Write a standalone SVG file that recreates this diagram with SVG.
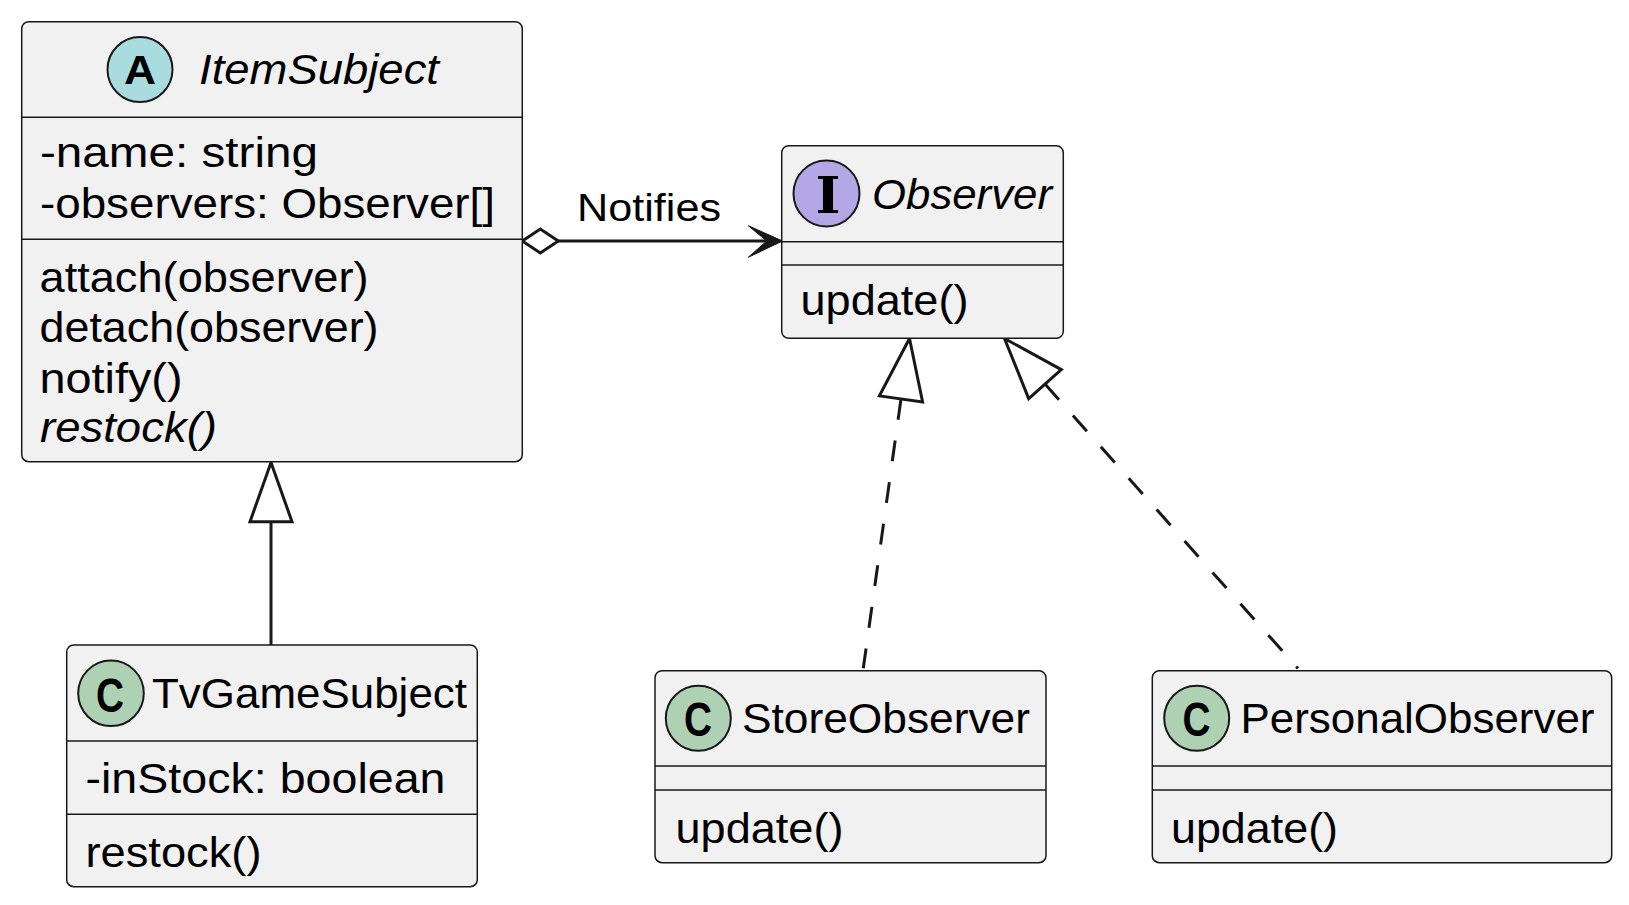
<svg xmlns="http://www.w3.org/2000/svg" width="1629" height="905" viewBox="0 0 1629 905">
<style>
.box{fill:#F1F1F1;stroke:#181818;stroke-width:1.5}
.sep{stroke:#181818;stroke-width:1.5}
.t{font-family:"Liberation Sans",Arial,sans-serif;font-size:43px;fill:#000000}
.it{font-style:italic}
.lbl{font-size:39px}
.sp{stroke:#181818;stroke-width:2}
.glyph{font-family:"Liberation Sans",Arial,sans-serif;font-weight:bold;font-size:40px;fill:#000000;text-anchor:middle}
.cg{font-size:48px}
.iglyph{font-family:"DejaVu Serif",serif;font-weight:bold;font-size:50px;fill:#000000;text-anchor:middle}
.edge{stroke:#181818;stroke-width:3;fill:none}
.dash{stroke-dasharray:21 21}
.hollow{fill:#FFFFFF;stroke:#181818;stroke-width:3;stroke-linejoin:miter}
.solid{fill:#181818;stroke:#181818;stroke-width:1}
</style>
<rect width="1629" height="905" fill="#FFFFFF"/>

<g id="connectors">
  <line class="edge" x1="558.3" y1="241" x2="768" y2="241"/>
  <polygon class="hollow" points="522.3,241 540.3,229 558.3,241 540.3,253"/>
  <polygon class="solid" points="782.5,241 748.3,225.7 766.7,241 748.3,257.3"/>
  <text class="t lbl" x="577" y="221" textLength="144" lengthAdjust="spacingAndGlyphs">Notifies</text>
  <line class="edge" x1="271" y1="645" x2="271" y2="521.7"/>
  <polygon class="hollow" points="271,462.5 250,521.7 292,521.7"/>
  <path class="edge dash" d="M901,398.9 L863.3,668.3"/>
  <polygon class="hollow" points="909.5,338.5 922.6,401.9 879.4,395.9"/>
  <path class="edge dash" d="M1045,384.1 L1298,668.5"/>
  <polygon class="hollow" points="1004.5,338.5 1061.3,369.6 1028.7,398.6"/>
</g>

<g id="ItemSubject">
  <rect class="box" x="21.7" y="21.7" width="500.6" height="440" rx="7" ry="7"/>
  <line class="sep" x1="21.7" y1="117.3" x2="522.3" y2="117.3"/>
  <line class="sep" x1="21.7" y1="239.3" x2="522.3" y2="239.3"/>
  <circle class="sp" cx="140" cy="69.5" r="32.5" fill="#A9DCDF"/>
  <text class="glyph" x="140" y="84" textLength="32" lengthAdjust="spacingAndGlyphs">A</text>
  <text class="t it" x="199" y="84.3" textLength="240" lengthAdjust="spacingAndGlyphs">ItemSubject</text>
  <text class="t" x="40" y="166.7" textLength="278" lengthAdjust="spacingAndGlyphs">-name: string</text>
  <text class="t" x="40" y="218.3" textLength="455" lengthAdjust="spacingAndGlyphs">-observers: Observer[]</text>
  <text class="t" x="39.5" y="291.5" textLength="329" lengthAdjust="spacingAndGlyphs">attach(observer)</text>
  <text class="t" x="39.5" y="342" textLength="339" lengthAdjust="spacingAndGlyphs">detach(observer)</text>
  <text class="t" x="39.5" y="392.5" textLength="143" lengthAdjust="spacingAndGlyphs">notify()</text>
  <text class="t it" x="40" y="442" textLength="177" lengthAdjust="spacingAndGlyphs">restock()</text>
</g>

<g id="Observer">
  <rect class="box" x="781.7" y="145.7" width="281.6" height="192.6" rx="7" ry="7"/>
  <line class="sep" x1="781.7" y1="241.7" x2="1063.3" y2="241.7"/>
  <line class="sep" x1="781.7" y1="265" x2="1063.3" y2="265"/>
  <circle class="sp" cx="826.5" cy="193.5" r="33" fill="#B4A7E5"/>
  <text class="iglyph" x="828" y="212.5" textLength="25" lengthAdjust="spacingAndGlyphs">I</text>
  <text class="t it" x="872" y="209" textLength="180" lengthAdjust="spacingAndGlyphs">Observer</text>
  <text class="t" x="800.5" y="315" textLength="168" lengthAdjust="spacingAndGlyphs">update()</text>
</g>

<g id="TvGameSubject">
  <rect class="box" x="66.7" y="645" width="410.6" height="241.7" rx="7" ry="7"/>
  <line class="sep" x1="66.7" y1="741" x2="477.3" y2="741"/>
  <line class="sep" x1="66.7" y1="814.3" x2="477.3" y2="814.3"/>
  <circle class="sp" cx="111" cy="693.3" r="32.8" fill="#ADD1B2"/>
  <text class="glyph cg" x="110" y="711.5" textLength="28" lengthAdjust="spacingAndGlyphs">C</text>
  <text class="t" x="152" y="708.3" textLength="315" lengthAdjust="spacingAndGlyphs">TvGameSubject</text>
  <text class="t" x="85.5" y="793.3" textLength="360" lengthAdjust="spacingAndGlyphs">-inStock: boolean</text>
  <text class="t" x="85.5" y="866.7" textLength="176" lengthAdjust="spacingAndGlyphs">restock()</text>
</g>

<g id="StoreObserver">
  <rect class="box" x="655" y="670.7" width="391" height="192" rx="7" ry="7"/>
  <line class="sep" x1="655" y1="766" x2="1046" y2="766"/>
  <line class="sep" x1="655" y1="790" x2="1046" y2="790"/>
  <circle class="sp" cx="698.3" cy="718.3" r="32.5" fill="#ADD1B2"/>
  <text class="glyph cg" x="698" y="736" textLength="28" lengthAdjust="spacingAndGlyphs">C</text>
  <text class="t" x="742" y="733.3" textLength="288" lengthAdjust="spacingAndGlyphs">StoreObserver</text>
  <text class="t" x="675.5" y="842.7" textLength="168" lengthAdjust="spacingAndGlyphs">update()</text>
</g>

<g id="PersonalObserver">
  <rect class="box" x="1152.3" y="670.7" width="459.4" height="192" rx="7" ry="7"/>
  <line class="sep" x1="1152.3" y1="766" x2="1611.7" y2="766"/>
  <line class="sep" x1="1152.3" y1="790" x2="1611.7" y2="790"/>
  <circle class="sp" cx="1196.7" cy="718.3" r="32.5" fill="#ADD1B2"/>
  <text class="glyph cg" x="1196.5" y="736" textLength="28" lengthAdjust="spacingAndGlyphs">C</text>
  <text class="t" x="1240.5" y="733.3" textLength="354" lengthAdjust="spacingAndGlyphs">PersonalObserver</text>
  <text class="t" x="1171" y="842.7" textLength="167" lengthAdjust="spacingAndGlyphs">update()</text>
</g>
</svg>
